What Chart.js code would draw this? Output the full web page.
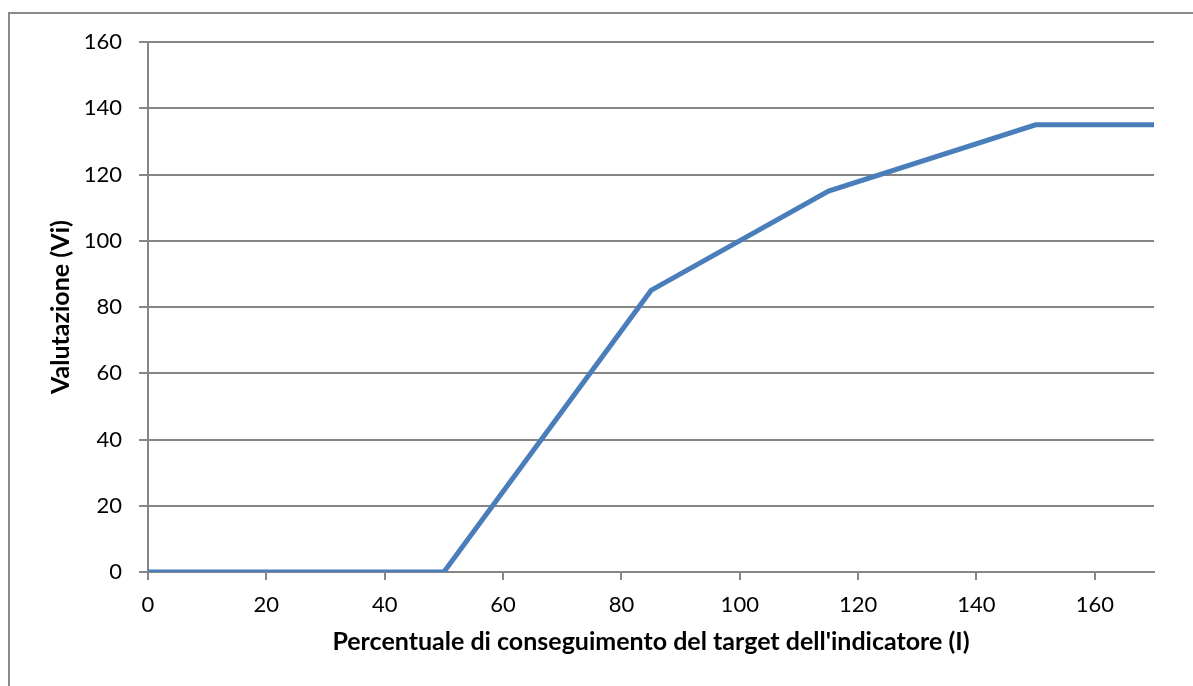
<!DOCTYPE html>
<html>
<head>
<meta charset="utf-8">
<script src="https://cdn.jsdelivr.net/npm/chart.js@4.4.0/dist/chart.umd.min.js"></script>
<style>
  html, body { margin: 0; padding: 0; background: #fff; overflow: hidden; }
  #wrap { position: relative; width: 1193px; height: 686px; }
  #frame { position: absolute; left: 8px; top: 12px; width: 1300px; height: 800px; border: 2px solid #8a8a8a; box-sizing: border-box; }
  canvas { position: absolute; left: 0; top: 0; }
</style>
</head>
<body>
<div id="wrap">
  <div id="frame"></div>
  <canvas id="myChart" width="1193" height="686"></canvas>
</div>
<script>
// punti della curva di valutazione
const percentuale = [0, 50, 85, 115, 150, 170];
const valutazione = [0, 0, 85, 115, 135, 135];

const punti = percentuale.map(function(x, i) {
    return { x: x, y: valutazione[i] };
});

const gridColor = '#868686';

const ctx = document.getElementById('myChart').getContext('2d');
const config = {
    type: 'line',
    data: {
        datasets: [{
            label: 'Valutazione',
            data: punti,
            borderColor: '#4a7ebb',
            backgroundColor: '#4a7ebb',
            borderWidth: 5,
            pointRadius: 0,
            tension: 0,
            fill: false
        }]
    },
    options: {
        responsive: false,
        animation: false,
        layout: { padding: { top: 42, right: 39, left: 0, bottom: 0 } },
        plugins: {
            legend: { display: false },
            tooltip: { enabled: false }
        },
        scales: {
            x: {
                type: 'linear',
                min: 0,
                max: 170,
                afterFit: function(scale) { scale.height = 114; },
                border: { color: gridColor, width: 2 },
                grid: { drawOnChartArea: false, color: gridColor, lineWidth: 2, tickLength: 8 },
                ticks: {
                    stepSize: 20,
                    includeBounds: false,
                    color: '#000',
                    padding: 12,
                    maxRotation: 0,
                    font: { family: 'Lato', size: 22 }
                },
                title: {
                    display: true,
                    text: "Percentuale di conseguimento del target dell'indicatore (I)",
                    color: '#000',
                    padding: { top: 0, bottom: 29 },
                    font: { family: 'Lato', size: 25, weight: 'bold' }
                }
            },
            y: {
                min: 0,
                max: 160,
                afterFit: function(scale) { scale.width = 148; },
                border: { color: gridColor, width: 2 },
                grid: { color: gridColor, lineWidth: 2, tickLength: 9 },
                ticks: {
                    stepSize: 20,
                    color: '#000',
                    padding: 17,
                    font: { family: 'Lato', size: 22 }
                },
                title: {
                    display: true,
                    text: 'Valutazione (Vi)',
                    color: '#000',
                    padding: { top: 46, bottom: 0 },
                    font: { family: 'Lato', size: 25, weight: 'bold' }
                }
            }
        }
    }
};
const myChart = new Chart(ctx, config);
</script>
</body>
</html>
